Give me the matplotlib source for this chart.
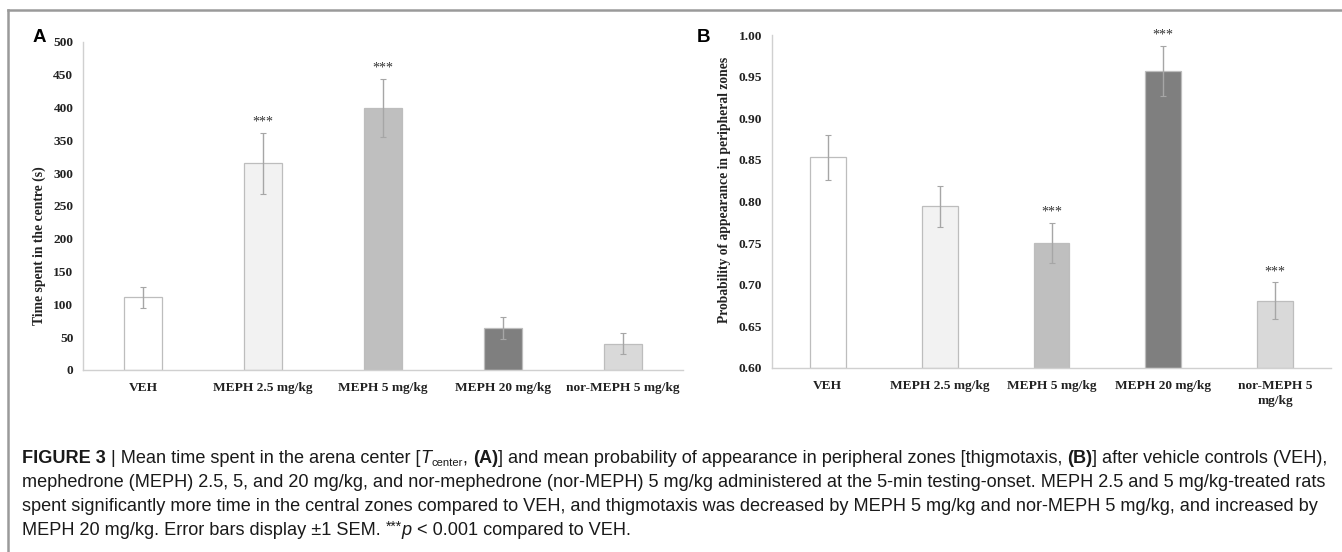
import numpy as np
import matplotlib
matplotlib.use("Agg")
import matplotlib.pyplot as plt
from matplotlib.lines import Line2D

# group labels and measured values
groups = ["VEH", "MEPH 2.5 mg/kg", "MEPH 5 mg/kg", "MEPH 20 mg/kg", "nor-MEPH 5 mg/kg"]
groups_b = ["VEH", "MEPH 2.5 mg/kg", "MEPH 5 mg/kg", "MEPH 20 mg/kg", "nor-MEPH 5\nmg/kg"]
bar_colors = ["#ffffff", "#f2f2f2", "#bfbfbf", "#7f7f7f", "#d9d9d9"]

time_centre = [111, 315, 399, 64, 40]
time_centre_sem = [16, 46, 44, 17, 16]
time_centre_sig = [False, True, True, False, False]

periph_prob = [0.853, 0.794, 0.750, 0.957, 0.681]
periph_prob_sem = [0.027, 0.025, 0.024, 0.030, 0.022]
periph_prob_sig = [False, False, True, True, True]

serif = "Liberation Serif"
sans = "Liberation Sans"

fig = plt.figure(figsize=(13.42, 5.52), dpi=100)


def bar_panel(rect, vals, errs, sig, labels, ylim, yticks, fmt, ylabel, star_gap):
    ax = fig.add_axes(rect)
    x = np.arange(len(vals))
    ax.bar(x, [v - ylim[0] for v in vals], bottom=ylim[0], width=0.32,
           color=bar_colors, edgecolor="#bdbdbd", linewidth=0.9, zorder=2)
    ax.errorbar(x, vals, yerr=errs, fmt="none", ecolor="#a6a6a6",
                elinewidth=1.0, capsize=2.5, capthick=0.8, zorder=3)
    for xi, v, e, s in zip(x, vals, errs, sig):
        if s:
            ax.text(xi, v + e + star_gap, "***", ha="center", va="bottom",
                    fontsize=10, family=serif, color="#333333")
    ax.set_xlim(-0.5, len(vals) - 0.5)
    ax.set_ylim(*ylim)
    ax.set_yticks(yticks)
    ax.set_yticklabels([fmt.format(t) for t in yticks])
    ax.set_xticks(x)
    ax.set_xticklabels(labels, linespacing=1.3)
    for lab in ax.get_xticklabels() + ax.get_yticklabels():
        lab.set_family(serif)
        lab.set_fontweight("bold")
        lab.set_fontsize(9.6)
        lab.set_color("#222222")
    ax.tick_params(length=0)
    ax.tick_params(axis="y", pad=7)
    ax.tick_params(axis="x", pad=8.5)
    for side in ["top", "right"]:
        ax.spines[side].set_visible(False)
    for side in ["left", "bottom"]:
        ax.spines[side].set_color("#d0d0d0")
        ax.spines[side].set_linewidth(1.0)
    ax.set_ylabel(ylabel, family=serif, fontweight="bold", fontsize=9.8, color="#222222")
    return ax


ax_a = bar_panel([83 / 1342, 1 - 370 / 552, 600 / 1342, 328 / 552],
                 time_centre, time_centre_sem, time_centre_sig, groups,
                 (0, 500), np.arange(0, 501, 50), "{:d}",
                 "Time spent in the centre (s)", 7)
ax_a.yaxis.set_label_coords(-0.062, 0.38)

ax_b = bar_panel([772 / 1342, 1 - 368 / 552, 559 / 1342, 333 / 552],
                 periph_prob, periph_prob_sem, periph_prob_sig, groups_b,
                 (0.6, 1.0), np.round(np.arange(0.6, 1.001, 0.05), 2), "{:.2f}",
                 "Probability of appearance in peripheral zones", 0.005)
ax_b.yaxis.set_label_coords(-0.074, 0.534)

fig.text(33 / 1342, 1 - 38 / 552, "A", fontsize=13.5, fontweight="bold",
         family=sans, ha="left", va="center")
fig.text(697 / 1342, 1 - 38 / 552, "B", fontsize=13.5, fontweight="bold",
         family=sans, ha="left", va="center")

# frame around the figure panels
fig.add_artist(Line2D([8 / 1342, 1.0], [1 - 10 / 552, 1 - 10 / 552],
                      transform=fig.transFigure, color="#9a9a9a", linewidth=1.8))
fig.add_artist(Line2D([8 / 1342, 8 / 1342], [0, 1 - 10 / 552],
                      transform=fig.transFigure, color="#9a9a9a", linewidth=1.8))

# caption, written run by run so bold / italic / sub- and superscript pieces line up
renderer = fig.canvas.get_renderer()


def run_kw(style, size):
    kw = dict(family=sans, fontsize=size, color="#1a1a1a")
    dy = 0
    if "bold" in style:
        kw["fontweight"] = "bold"
    if "ital" in style:
        kw["style"] = "italic"
    if "sub" in style:
        kw["fontsize"] = size * 0.62
        dy = -3
    if "sup" in style:
        kw["fontsize"] = size * 0.75
        dy = 4
    return kw, dy


def text_width(s, **kw):
    t = fig.text(0, 0, s + "|", **kw)
    w = t.get_window_extent(renderer).width
    t.remove()
    t = fig.text(0, 0, "|", **kw)
    w -= t.get_window_extent(renderer).width
    t.remove()
    return w


def line_width(runs, size):
    return sum(text_width(s, **run_kw(st, size)[0]) for s, st in runs)


def draw_runs(x_px, y_px, runs, size):
    for s, style in runs:
        kw, dy = run_kw(style, size)
        fig.text(x_px / 1342, (552 - y_px + dy) / 552, s, va="baseline", ha="left", **kw)
        x_px += text_width(s, **kw)


caption = [
    [("FIGURE 3", ("bold",)), (" | Mean time spent in the arena center [", ()), ("T", ("ital",)),
     ("center", ("sub",)), (", ", ()), ("(A)", ("bold",)),
     ("] and mean probability of appearance in peripheral zones [thigmotaxis, ", ()),
     ("(B)", ("bold",)), ("] after vehicle controls (VEH),", ())],
    [("mephedrone (MEPH) 2.5, 5, and 20 mg/kg, and nor-mephedrone (nor-MEPH) 5 mg/kg administered "
      "at the 5-min testing-onset. MEPH 2.5 and 5 mg/kg-treated rats", ())],
    [("spent significantly more time in the central zones compared to VEH, and thigmotaxis was "
      "decreased by MEPH 5 mg/kg and nor-MEPH 5 mg/kg, and increased by", ())],
    [("MEPH 20 mg/kg. Error bars display \u00b11 SEM. ", ()), ("***", ("sup",)), ("p", ("ital",)),
     (" < 0.001 compared to VEH.", ())],
]
# size the caption so the full second line spans the text block
base = 10.0
cap_size = base * 1314 / line_width(caption[1], base)
for i, line in enumerate(caption):
    draw_runs(22, 463 + 24 * i, line, cap_size)

fig.savefig("out.png", dpi=100)
